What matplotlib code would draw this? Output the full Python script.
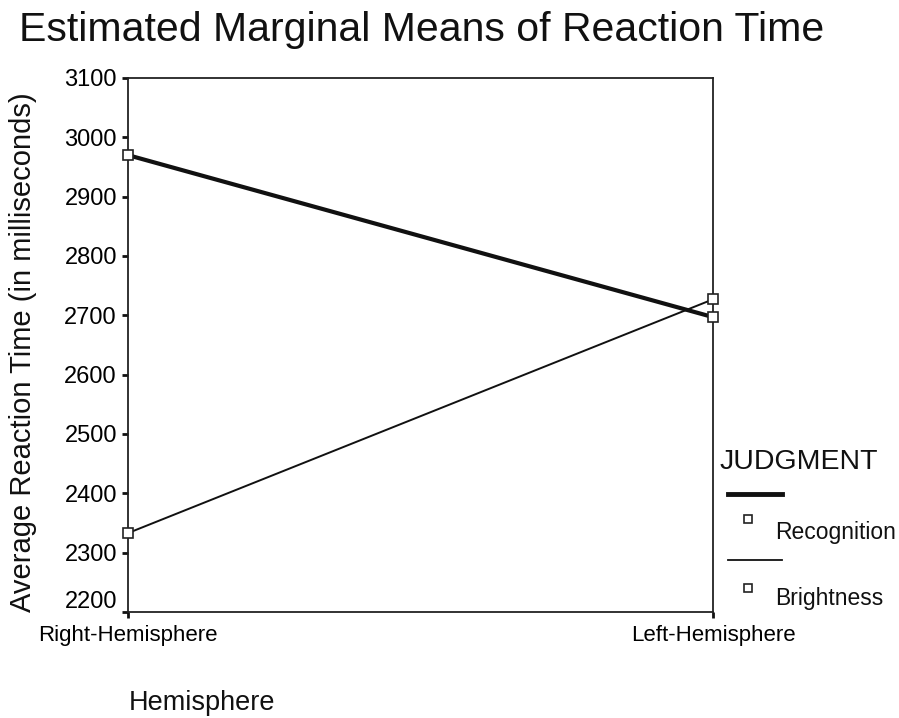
import matplotlib.pyplot as plt
from matplotlib.lines import Line2D
from matplotlib.transforms import ScaledTranslation

plt.rcParams['font.family'] = ['Liberation Sans', 'DejaVu Sans']

# --- dati ---
hemispheres = ["Right-Hemisphere", "Left-Hemisphere"]
recognition = [2970, 2697]
brightness = [2333, 2727]
y_ticks = [2200, 2300, 2400, 2500, 2600, 2700, 2800, 2900, 3000, 3100]

fig = plt.figure(figsize=(8.99, 7.18), dpi=100)
ax = fig.add_axes([128 / 899, 1 - 612 / 718, (713 - 128) / 899, (612 - 78) / 718])

x = list(range(len(hemispheres)))
ax.plot(x, recognition, color='#111111', linewidth=3.0, marker='s', markersize=7,
        markerfacecolor='white', markeredgecolor='#222222', markeredgewidth=1.2, clip_on=False, zorder=3)
ax.plot(x, brightness, color='#111111', linewidth=1.4, marker='s', markersize=7,
        markerfacecolor='white', markeredgecolor='#222222', markeredgewidth=1.2, clip_on=False, zorder=3)

ax.set_xlim(0, 1)
ax.set_ylim(2200, 3100)
ax.set_yticks(y_ticks)
ax.set_yticklabels([str(v) for v in y_ticks], fontsize=17)
ax.set_xticks(x)
ax.set_xticklabels(hemispheres, fontsize=16)
ax.tick_params(axis='y', length=4, width=2, pad=4, color='#111111')
ax.tick_params(axis='x', length=4, width=2, pad=5, color='#111111')
# l'etichetta 2200 è alzata un po' come nell'originale
lab0 = ax.get_yticklabels()[0]
lab0.set_transform(lab0.get_transform() + ScaledTranslation(0, 12 / 100, fig.dpi_scale_trans))
for s in ax.spines.values():
    s.set_linewidth(1.3)
    s.set_color('#222222')

fig.text(19 / 899, 1 - 30 / 718, "Estimated Marginal Means of Reaction Time", fontsize=29.5,
         ha='left', va='center', color='#111111')
fig.text(23 / 899, 1 - 352 / 718, "Average Reaction Time (in milliseconds)", fontsize=21,
         rotation=90, ha='center', va='center', color='#111111')
fig.text(202 / 899, 1 - 703 / 718, "Hemisphere", fontsize=19.5, ha='center', va='center', color='#111111')

# legenda disegnata a mano come nell'originale
fig.text(720 / 899, 1 - 462 / 718, "JUDGMENT", fontsize=20.5, ha='left', va='center', color='#111111')
fig.add_artist(Line2D([728 / 899, 782 / 899], [1 - 494 / 718] * 2, color='#111111', linewidth=3.5))
fig.add_artist(Line2D([748 / 899], [1 - 519 / 718], marker='s', markersize=6, markerfacecolor='white',
                      markeredgecolor='#222222', markeredgewidth=1.2))
fig.text(775 / 899, 1 - 533 / 718, "Recognition", fontsize=16.5, ha='left', va='center', color='#111111')
fig.add_artist(Line2D([728 / 899, 782 / 899], [1 - 560 / 718] * 2, color='#111111', linewidth=1.3))
fig.add_artist(Line2D([748 / 899], [1 - 588 / 718], marker='s', markersize=6, markerfacecolor='white',
                      markeredgecolor='#222222', markeredgewidth=1.2))
fig.text(775 / 899, 1 - 598 / 718, "Brightness", fontsize=16.5, ha='left', va='center', color='#111111')

fig.savefig("out.png", dpi=100)
